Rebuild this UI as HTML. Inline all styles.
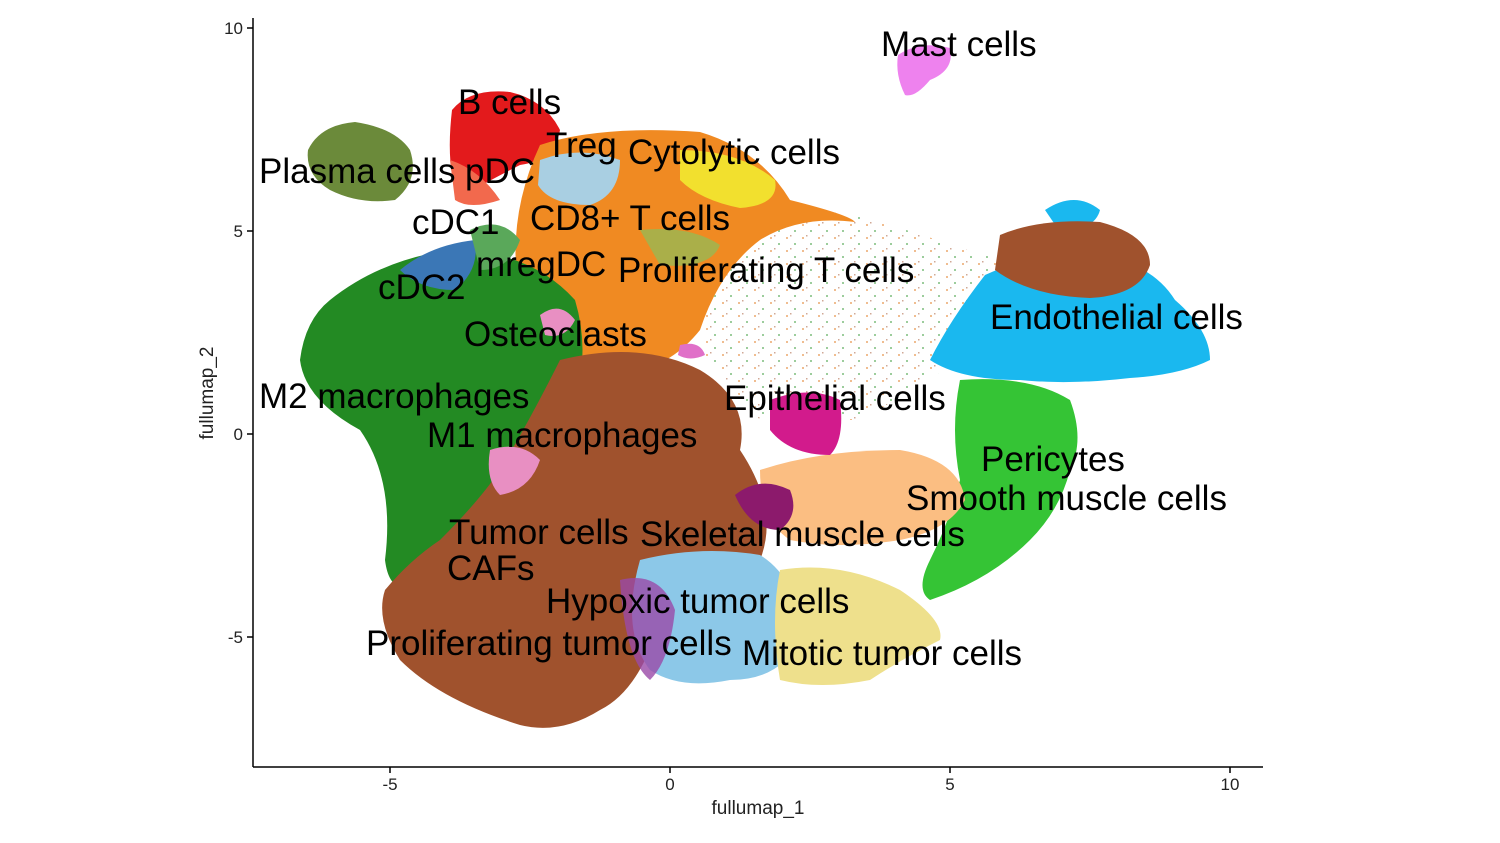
<!DOCTYPE html>
<html><head><meta charset="utf-8"><style>
html,body{margin:0;padding:0;background:#fff;}
svg{display:block;font-family:"Liberation Sans",Arial,sans-serif;}
.l{font-size:35px;fill:#000;}
.t{font-size:17px;fill:#222;}
</style></head><body>
<svg width="1500" height="843" viewBox="0 0 1500 843">
<defs>
<pattern id="dots" width="16" height="13" patternUnits="userSpaceOnUse">
<rect x="2" y="3" width="2" height="2" fill="#e07a20"/>
<rect x="10" y="9" width="2" height="2" fill="#3a9a3a"/>
<rect x="6" y="1" width="1.5" height="1.5" fill="#a0522d"/>
</pattern>
</defs>
<path d="M700,200 L860,215 L1000,260 L990,330 L930,380 L860,420 L760,420 L700,350 Z" fill="url(#dots)" opacity="0.5"/>
<path d="M308,150 Q320,125 355,122 Q395,128 410,150 Q420,180 395,200 Q360,205 330,190 Q305,175 308,150Z" fill="#6b8a3a"/>
<path d="M452,110 Q470,88 510,92 Q545,100 560,130 Q555,160 520,165 Q470,190 460,200 Q445,170 452,110Z" fill="#e31a1c"/>
<path d="M450,160 Q480,170 500,200 Q470,210 455,200Z" fill="#f2694d"/>
<path d="M540,145 Q600,125 700,132 Q760,150 790,200 Q850,215 855,222 Q800,215 760,240 Q720,270 700,330 Q660,380 600,370 Q540,360 520,300 Q505,220 540,145Z" fill="#f08a22"/>
<path d="M680,150 Q740,150 775,180 Q780,205 740,208 Q700,200 680,180Z" fill="#f2e02e"/>
<path d="M540,160 Q580,145 620,160 Q620,195 590,205 Q550,205 538,185Z" fill="#a9cfe2"/>
<path d="M330,300 Q380,260 450,250 Q530,250 575,300 Q590,350 575,400 Q540,470 490,500 Q450,540 420,580 Q390,600 385,560 Q395,480 360,430 Q305,400 300,360 Q305,320 330,300Z" fill="#238a23"/>
<path d="M400,270 Q430,245 475,240 Q480,270 455,290 Q420,290 400,270Z" fill="#3b77b6"/>
<path d="M470,230 Q500,215 520,240 Q510,270 480,270Z" fill="#5aa85a"/>
<path d="M640,230 Q690,225 720,245 Q710,270 660,265Z" fill="#8cbf5a" opacity="0.7"/>
<path d="M560,360 Q640,340 700,370 Q750,400 740,450 Q780,510 760,560 Q700,580 660,620 Q640,690 600,710 Q560,735 520,725 Q440,700 400,660 Q375,620 385,590 Q410,560 440,540 Q480,500 500,470 Q530,420 560,360Z" fill="#a0522d"/>
<path d="M490,450 Q520,440 540,460 Q530,490 500,495 Q485,480 490,450Z" fill="#e88fc2"/>
<path d="M540,315 Q560,300 575,320 Q565,340 545,335Z" fill="#e88fc2"/>
<path d="M680,345 Q700,340 705,355 Q690,362 678,355Z" fill="#e070c8"/>
<path d="M985,275 Q1040,250 1090,255 Q1150,260 1175,300 Q1210,330 1210,360 Q1180,375 1130,378 Q1070,385 1020,380 Q960,380 930,360 Q950,320 985,275Z" fill="#1ab8ef"/>
<path d="M1045,210 Q1075,190 1100,210 Q1095,230 1060,232Z" fill="#1ab8ef"/>
<path d="M1000,235 Q1040,218 1100,222 Q1150,235 1150,265 Q1140,295 1090,298 Q1030,296 995,270Z" fill="#a0522d"/>
<path d="M960,380 Q1030,375 1070,400 Q1085,440 1070,470 Q1060,510 1030,540 Q990,580 930,600 Q915,590 930,560 Q950,520 960,480 Q950,430 960,380Z" fill="#35c435"/>
<path d="M760,470 Q820,450 900,450 Q960,460 965,500 Q950,530 900,540 Q840,550 790,540 Q760,520 760,470Z" fill="#fbbe82"/>
<path d="M640,560 Q700,545 760,555 Q800,580 800,640 Q780,680 730,680 Q680,690 650,670 Q620,630 640,560Z" fill="#8cc8e8"/>
<path d="M780,570 Q840,560 900,590 Q945,620 940,640 Q900,660 870,680 Q820,690 780,680 Q770,620 780,570Z" fill="#eee08c"/>
<path d="M620,580 Q660,570 675,610 Q670,660 650,680 Q625,660 620,580Z" fill="#9a4aa8" opacity="0.8"/>
<path d="M770,400 Q810,385 840,400 Q845,440 830,455 Q790,455 770,430Z" fill="#d21b8c"/>
<path d="M735,495 Q760,475 790,490 Q800,515 780,530 Q750,530 735,495Z" fill="#8c1a6c"/>
<path d="M898,55 Q920,40 950,48 Q955,70 930,80 Q915,98 905,95 Q895,75 898,55Z" fill="#ee82ee"/>
<g stroke="#000" stroke-width="1.5" fill="none">
<line x1="253" y1="18" x2="253" y2="767"/>
<line x1="253" y1="767" x2="1263" y2="767"/>
<line x1="247" y1="28" x2="253" y2="28"/><line x1="247" y1="231" x2="253" y2="231"/>
<line x1="247" y1="434" x2="253" y2="434"/><line x1="247" y1="637" x2="253" y2="637"/>
<line x1="390" y1="767" x2="390" y2="773"/><line x1="670" y1="767" x2="670" y2="773"/>
<line x1="950" y1="767" x2="950" y2="773"/><line x1="1230" y1="767" x2="1230" y2="773"/>
</g>
<g class="t" text-anchor="end">
<text x="243" y="34">10</text><text x="243" y="237">5</text><text x="243" y="440">0</text><text x="243" y="643">-5</text>
</g>
<g class="t" text-anchor="middle">
<text x="390" y="790">-5</text><text x="670" y="790">0</text><text x="950" y="790">5</text><text x="1230" y="790">10</text>
<text x="758" y="814" style="font-size:19px">fullumap_1</text>
</g>
<text transform="translate(213,393) rotate(-90)" text-anchor="middle" style="font-size:19px" fill="#222">fullumap_2</text>
<g class="l">
<text x="881" y="56">Mast cells</text>
<text x="458" y="114">B cells</text>
<text x="546" y="157">Treg</text>
<text x="628" y="164">Cytolytic cells</text>
<text x="259" y="183">Plasma cells</text>
<text x="465" y="183">pDC</text>
<text x="530" y="230">CD8+ T cells</text>
<text x="412" y="234">cDC1</text>
<text x="476" y="276">mregDC</text>
<text x="618" y="282">Proliferating T cells</text>
<text x="378" y="299">cDC2</text>
<text x="990" y="329">Endothelial cells</text>
<text x="464" y="346">Osteoclasts</text>
<text x="259" y="408">M2 macrophages</text>
<text x="724" y="410">Epithelial cells</text>
<text x="427" y="447">M1 macrophages</text>
<text x="981" y="471">Pericytes</text>
<text x="906" y="510">Smooth muscle cells</text>
<text x="449" y="544">Tumor cells</text>
<text x="640" y="546">Skeletal muscle cells</text>
<text x="447" y="580">CAFs</text>
<text x="546" y="613">Hypoxic tumor cells</text>
<text x="366" y="655">Proliferating tumor cells</text>
<text x="742" y="665">Mitotic tumor cells</text>
</g>
</svg>
</body></html>
